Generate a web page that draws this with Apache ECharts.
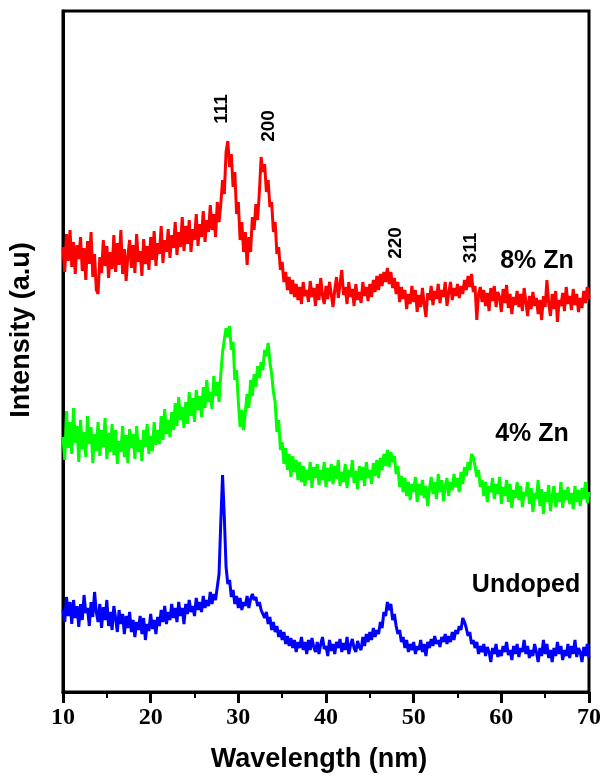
<!DOCTYPE html>
<html>
<head>
<meta charset="utf-8">
<script src="https://cdn.jsdelivr.net/npm/echarts@6/dist/echarts.min.js"></script>
<style>
html,body{margin:0;padding:0;background:#fff;}
#chart{width:604px;height:779px;}
</style>
</head>
<body>
<div id="chart"></div>
<script>
// 2θ sampling: start 10, step 0.2 (301 points up to 70)
const xStart = 10;
const xStep = 0.2;
const xTicks = [10, 20, 30, 40, 50, 60, 70];

const seriesNames = ['8% Zn', '4% Zn', 'Undoped'];
const seriesColors = ['#ff0000', '#00ff00', '#0000ff'];

// Intensity (a.u.), offset-stacked as in the figure; one row per degree
const zn8 = [
445,420,458,431,462, 425,450,418,447,433, 455,421,444,412,451, 428,460,415,438,402,
398,435,419,452,426, 446,414,440,423,457, 420,449,427,462,418, 443,411,436,452,424,
447,419,458,430,441, 416,453,428,446,422, 455,432,461,426,449, 438,466,429,452,440,
463,434,457,444,470, 437,460,445,475,441, 466,448,472,440,463, 452,478,446,468,455,
481,450,472,460,487, 462,478,455,490,470, 488,512,498,540,551, 525,538,505,520,478,
490,452,470,440,460, 427,455,440,475,462, 488,472,500,535,520, 528,500,512,485,490,
460,470,438,445,422, 430,410,420,402,415, 398,412,395,408,392, 405,388,410,396,402,
390,411,395,404,386, 408,392,414,396,388, 406,393,410,398,385, 402,415,394,408,422,
397,405,388,410,395, 403,386,408,392,400, 389,410,396,405,391, 408,395,412,400,416,
402,418,406,420,410, 424,408,420,404,414, 398,410,390,405,393, 402,383,398,388,406,
390,402,380,397,385, 404,388,375,399,392, 406,387,401,393,408, 389,402,395,410,386,
399,410,392,404,396, 408,394,406,398,412, 402,416,405,418,400, 406,372,398,405,390,
402,386,399,381,404, 391,406,385,400,395, 380,403,389,407,384, 398,378,395,387,401,
385,398,381,404,390, 376,396,383,400,386, 394,378,392,372,396, 385,412,389,376,398,
383,401,370,392,386, 399,381,405,388,396, 382,403,387,398,380, 394,384,401,389,405,
393
];
const zn4 = [
255,232,281,244,270, 238,284,249,266,230, 272,243,260,235,276, 248,265,229,258,241,
270,236,262,245,274, 233,259,240,268,237, 262,228,251,240,266, 235,257,229,263,244,
258,233,266,240,252, 231,262,245,268,238, 256,241,270,247,262, 248,276,252,283,258,
272,255,280,262,289, 266,295,272,285,264, 290,268,300,276,294, 270,302,282,296,275,
305,284,312,290,300, 283,316,296,310,290, 318,340,352,364,355, 366,342,350,312,322,
290,265,282,262,280, 298,284,312,296,318, 305,326,314,330,322, 342,336,349,330,318,
300,290,260,272,242, 250,228,244,222,238, 215,236,220,232,212, 230,210,226,206,222,
212,230,204,225,214, 228,207,222,212,230, 205,224,211,228,208, 226,213,232,206,220,
210,228,204,222,215, 232,209,221,203,226, 212,225,206,230,214, 222,208,229,216,232,
214,234,222,238,226, 242,225,240,230,236, 218,226,205,216,200, 214,196,210,192,208,
200,215,190,208,197, 212,194,206,186,203, 215,198,210,193,218, 200,212,191,206,214,
196,210,202,218,205, 214,200,220,208,225, 216,230,222,238,235, 226,215,222,205,212,
196,210,190,206,200, 214,193,208,198,215, 188,205,196,212,190, 208,184,202,194,210,
192,206,185,200,196, 210,188,204,180,199, 193,212,186,203,178, 200,190,207,181,196,
206,185,199,190,210, 184,202,192,205,188, 199,183,206,190,202, 186,204,193,210,189,
200
];
const undoped = [
82,70,95,76,90, 68,92,74,86,65, 88,72,97,79,84, 66,90,75,100,80,
70,88,64,85,72, 92,66,80,62,86, 74,60,82,68,78, 58,76,64,80,60,
72,55,70,62,76, 58,74,52,68,61, 78,63,72,58,75, 66,82,70,86,68,
80,72,88,74,84, 70,90,76,84,68, 88,78,92,80,86, 76,94,82,90,80,
96,84,92,86,100, 88,98,92,105,118, 170,217,175,125,108, 112,95,102,88,96,
84,94,82,90,86, 96,84,93,98,92, 95,86,90,82,84, 74,80,68,75,62,
70,60,66,55,62, 52,60,48,56,46, 54,44,52,40,50, 44,55,42,50,38,
52,42,54,45,40, 50,38,48,55,43, 46,36,52,41,48, 38,50,44,53,40,
49,42,55,38,47, 53,44,40,51,45, 42,55,46,58,50, 60,52,64,55,62,
58,70,64,80,76, 90,82,88,72,78, 66,58,62,50,55, 44,52,40,48,42,
50,38,46,42,52, 40,48,36,50,44, 53,46,56,48,52, 45,55,50,58,48,
56,50,60,52,62, 58,66,62,74,70, 64,56,60,48,52, 44,50,38,46,40,
48,36,45,40,30, 44,38,48,35,42, 36,46,40,50,37, 42,32,46,38,48,
35,44,40,52,38, 46,34,42,36,48, 40,30,44,36,52, 38,48,34,42,30,
44,36,50,38,46, 32,42,36,48,34, 46,38,52,35,44, 40,30,45,36,48,
34
];

const peakLabels = ['111', '200', '220', '311'];

function toPairs(arr) {
  return arr.map((v, i) => [+(xStart + i * xStep).toFixed(2), v]);
}

const chart = echarts.init(document.getElementById('chart'), null, {renderer: 'canvas'});
const sansBold = 'bold 25px "Liberation Sans", Arial, sans-serif';
const peakFont = 'bold 19px "Liberation Sans", Arial, sans-serif';
const titleFont = 'bold 27px "Liberation Sans", Arial, sans-serif';

function txt(text, x, y, font, rot) {
  return {
    type: 'text', x: x, y: y, rotation: rot || 0, z: 100,
    style: {text: text, font: font, fill: '#000', align: 'center', verticalAlign: 'middle',
            textAlign: 'center', textVerticalAlign: 'middle'}
  };
}

const option = {
  animation: false,
  backgroundColor: '#fff',
  grid: {left: 63, right: 14, top: 11, bottom: 87, show: true, borderColor: '#000', borderWidth: 3, backgroundColor: 'transparent'},
  xAxis: {
    type: 'value', min: 10, max: 70, interval: 10,
    axisLine: {show: true, lineStyle: {color: '#000', width: 3}},
    axisTick: {show: true, inside: false, length: 11, lineStyle: {color: '#000', width: 3}},
    minorTick: {show: true, splitNumber: 2, length: 6, lineStyle: {color: '#000', width: 2}},
    splitLine: {show: false},
    axisLabel: {show: true, margin: 14, color: '#000', fontFamily: '"Liberation Serif", "Times New Roman", serif', fontWeight: 'bold', fontSize: 24,
      formatter: v => xTicks.indexOf(v) >= 0 ? String(v) : ''}
  },
  yAxis: {
    type: 'value', min: 0, max: 681,
    axisLine: {show: true, lineStyle: {color: '#000', width: 3}},
    axisTick: {show: false}, axisLabel: {show: false}, splitLine: {show: false}
  },
  series: [zn8, zn4, undoped].map((d, k) => ({
    name: seriesNames[k], type: 'line', data: toPairs(d), showSymbol: false, symbol: 'none',
    lineStyle: {color: seriesColors[k], width: 3}, itemStyle: {color: seriesColors[k]}
  })),
  graphic: [
    txt(peakLabels[0], 222, 109, peakFont, Math.PI / 2),
    txt(peakLabels[1], 269, 126, peakFont, Math.PI / 2),
    txt(peakLabels[2], 396, 243, peakFont, Math.PI / 2),
    txt(peakLabels[3], 471, 248, peakFont, Math.PI / 2),
    txt(seriesNames[0], 537, 261, sansBold),
    txt(seriesNames[1], 532, 434, sansBold),
    txt(seriesNames[2], 526, 585, sansBold),
    txt('Wavelength (nm)', 319, 760, titleFont),
    txt('Intensity (a.u)', 22, 330, titleFont, Math.PI / 2)
  ]
};
chart.setOption(option);
</script>
</body>
</html>
